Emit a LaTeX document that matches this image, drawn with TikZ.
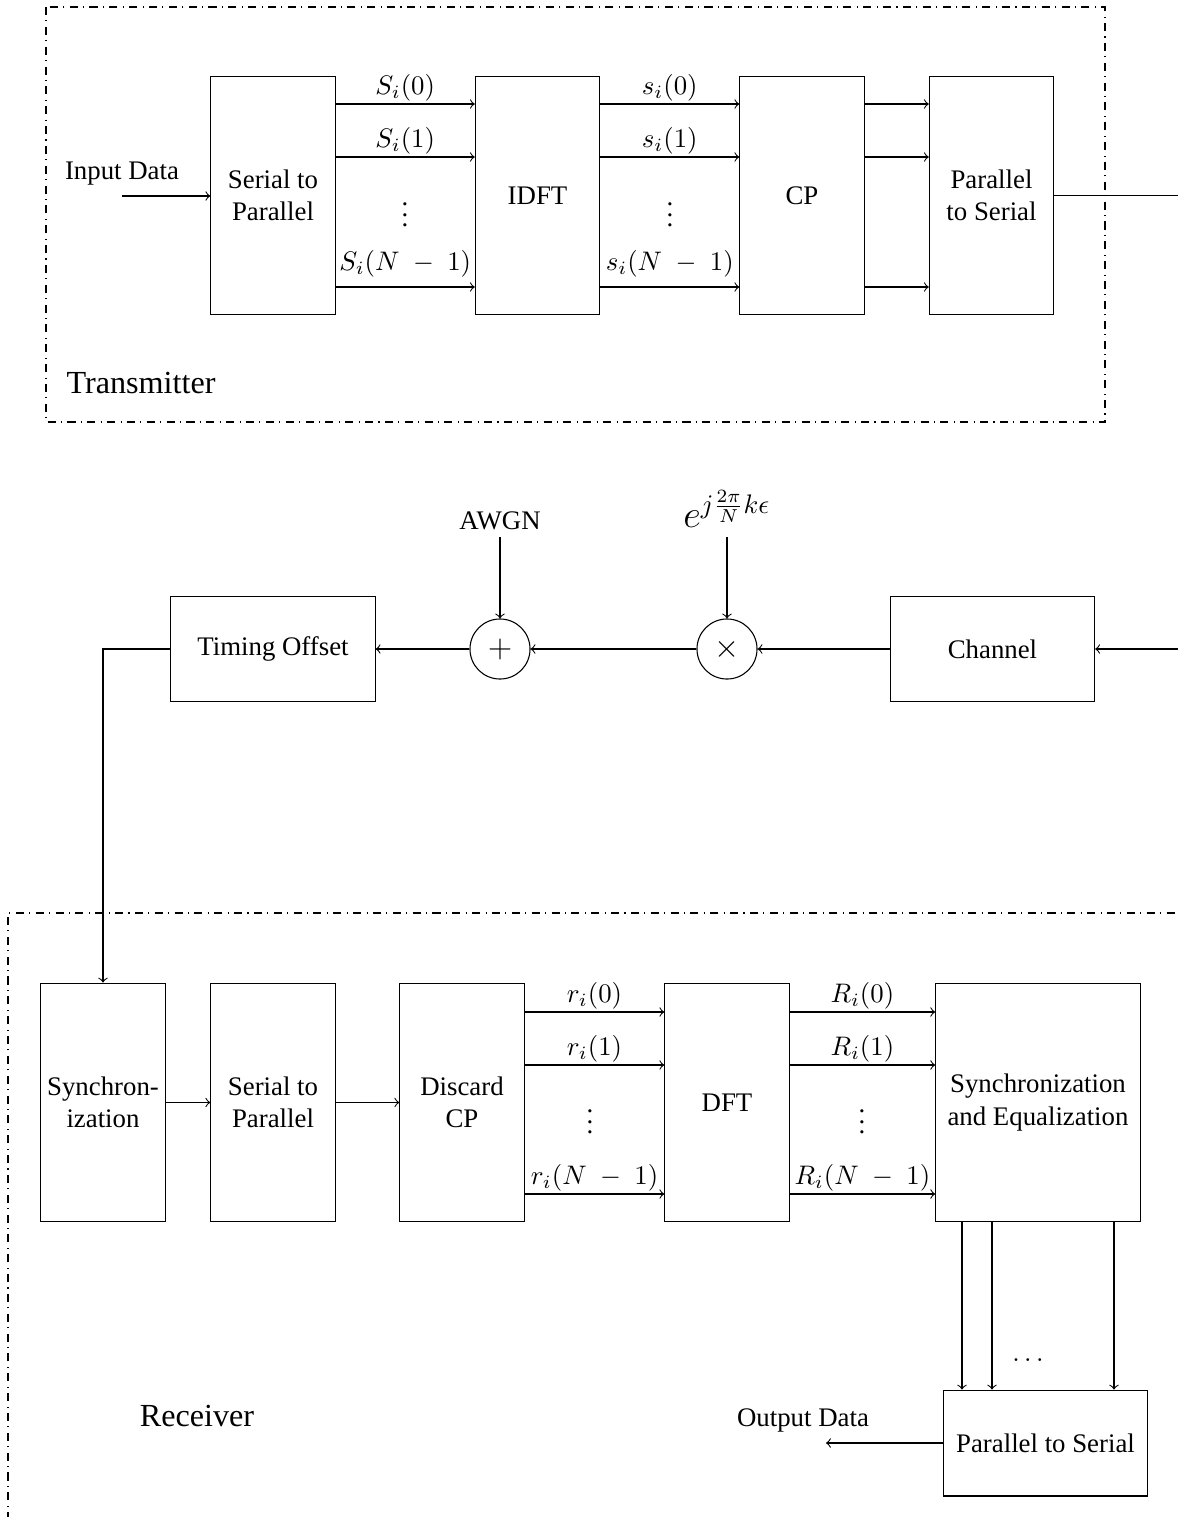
\documentclass[tikz,border=0pt]{standalone}
\usepackage{fontspec}
\setmainfont{Liberation Serif}
\begin{document}
\begin{tikzpicture}[x=0.373pt,y=-0.373pt,
  blk/.style={draw, align=center, inner sep=1pt},
  tall/.style={blk, minimum width=46.4pt, minimum height=89.1pt},
  wide/.style={blk, minimum width=76.2pt, minimum height=39.5pt},
  sumnode/.style={draw, circle, minimum size=22.4pt, inner sep=0pt},
  frame/.style={dashdotted},
  lbl/.style={inner sep=0pt},
  sig/.style={->},
  near/.style={above, inner sep=1pt},
  >=to]
\useasboundingbox (0,0) rectangle (1178,1517);
\clip (0,0) rectangle (1178,1517);

% ---------- Transmitter ----------
\draw[frame] (46,7) rectangle (1105,422);
\node[lbl, font=\large] (txlabel) at (141,383) {Transmitter};

\node[tall] (sp1) at (273,195.5) {Serial to\\Parallel};
\node[tall] (idft) at (537.5,195.5) {IDFT};
\node[tall] (cp) at (802,195.5) {CP};
\node[tall] (ps1) at (991.5,195.5) {Parallel\\to Serial};

\node[lbl] (inlabel) at (122,174) {Input Data};
\coordinate (instart) at (122,196);
\draw[sig] (instart) -- (sp1.west |- instart);

\coordinate (t0) at (0,104);
\coordinate (t1) at (0,157);
\coordinate (t2) at (0,287);

\draw[sig] (sp1.east |- t0) -- node[near] {$S_i(0)$} (idft.west |- t0);
\draw[sig] (sp1.east |- t1) -- node[near] {$S_i(1)$} (idft.west |- t1);
\draw[sig] (sp1.east |- t2) -- node[above] {$S_i(N\;-\;1)$} (idft.west |- t2);
\node[lbl] (vd1) at (405,207) {$\vdots$};

\draw[sig] (idft.east |- t0) -- node[near] {$s_i(0)$} (cp.west |- t0);
\draw[sig] (idft.east |- t1) -- node[near] {$s_i(1)$} (cp.west |- t1);
\draw[sig] (idft.east |- t2) -- node[above] {$s_i(N\;-\;1)$} (cp.west |- t2);
\node[lbl] (vd2) at (670,207) {$\vdots$};

\draw[sig] (cp.east |- t0) -- (ps1.west |- t0);
\draw[sig] (cp.east |- t1) -- (ps1.west |- t1);
\draw[sig] (cp.east |- t2) -- (ps1.west |- t2);

\coordinate (txout) at (1190,195.5);
\draw (ps1.east) -- (txout);

% ---------- Channel ----------
\node[wide] (chan) at (992.5,649) {Channel};
\node[sumnode] (mult) at (727,649) {\large$\times$};
\node[sumnode] (plus) at (500,649) {\large$+$};
\node[wide] (tim) at (273,649) {Timing Offset};

\coordinate (chin) at (1190,649);
\draw[sig] (chin) -- (chan.east);
\draw[sig] (chan.west) -- (mult.east);
\draw[sig] (mult.west) -- (plus.east);
\draw[sig] (plus.west) -- (tim.east);

\node[lbl] (awgn) at (500,521) {AWGN};
\node[lbl, font=\Large] (expo) at (727,509) {$e^{j\frac{2\pi}{N}k\epsilon}$};
\coordinate (awgnin) at (500,537);
\coordinate (expoin) at (727,537);
\draw[sig] (awgnin) -- (plus.north);
\draw[sig] (expoin) -- (mult.north);

% ---------- Receiver ----------
\draw[frame] (8,1540) -- (8,913) -- (1190,913);
\node[lbl, font=\large] (rxlabel) at (197,1416) {Receiver};

\node[tall] (sync) at (103,1102.5) {Synchron-\\ization};
\node[tall] (sp2) at (273,1102.5) {Serial to\\Parallel};
\node[tall] (dcp) at (462,1102.5) {Discard\\CP};
\node[tall] (dft) at (727,1102.5) {DFT};
\node[blk, minimum width=76.3pt, minimum height=89.1pt] (se) at (1038,1102.5) {Synchronization\\and Equalization};
\node[wide] (ps2) at (1045.5,1443) {Parallel to Serial};

\draw[sig] (tim.west) -| (sync.north);
\draw[sig] (sync.east) -- (sp2.west);
\draw[sig] (sp2.east) -- (dcp.west);

\coordinate (r0) at (0,1012);
\coordinate (r1) at (0,1065);
\coordinate (r2) at (0,1194);

\draw[sig] (dcp.east |- r0) -- node[near] {$r_i(0)$} (dft.west |- r0);
\draw[sig] (dcp.east |- r1) -- node[near] {$r_i(1)$} (dft.west |- r1);
\draw[sig] (dcp.east |- r2) -- node[near] {$r_i(N\;-\;1)$} (dft.west |- r2);
\node[lbl] (vd3) at (590,1114) {$\vdots$};

\draw[sig] (dft.east |- r0) -- node[near] {$R_i(0)$} (se.west |- r0);
\draw[sig] (dft.east |- r1) -- node[near] {$R_i(1)$} (se.west |- r1);
\draw[sig] (dft.east |- r2) -- node[near] {$R_i(N\;-\;1)$} (se.west |- r2);
\node[lbl] (vd4) at (862,1114) {$\vdots$};

\coordinate (d1) at (962,0);
\coordinate (d2) at (992,0);
\coordinate (d3) at (1114,0);
\draw[sig] (se.south -| d1) -- (ps2.north -| d1);
\draw[sig] (se.south -| d2) -- (ps2.north -| d2);
\draw[sig] (se.south -| d3) -- (ps2.north -| d3);
\node[lbl] (hd) at (1028,1360) {$\dots$};

\coordinate (outend) at (826,1443);
\draw[sig] (ps2.west) -- (outend);
\node[lbl] (outlabel) at (803,1420) {Output Data};
\end{tikzpicture}
\end{document}
